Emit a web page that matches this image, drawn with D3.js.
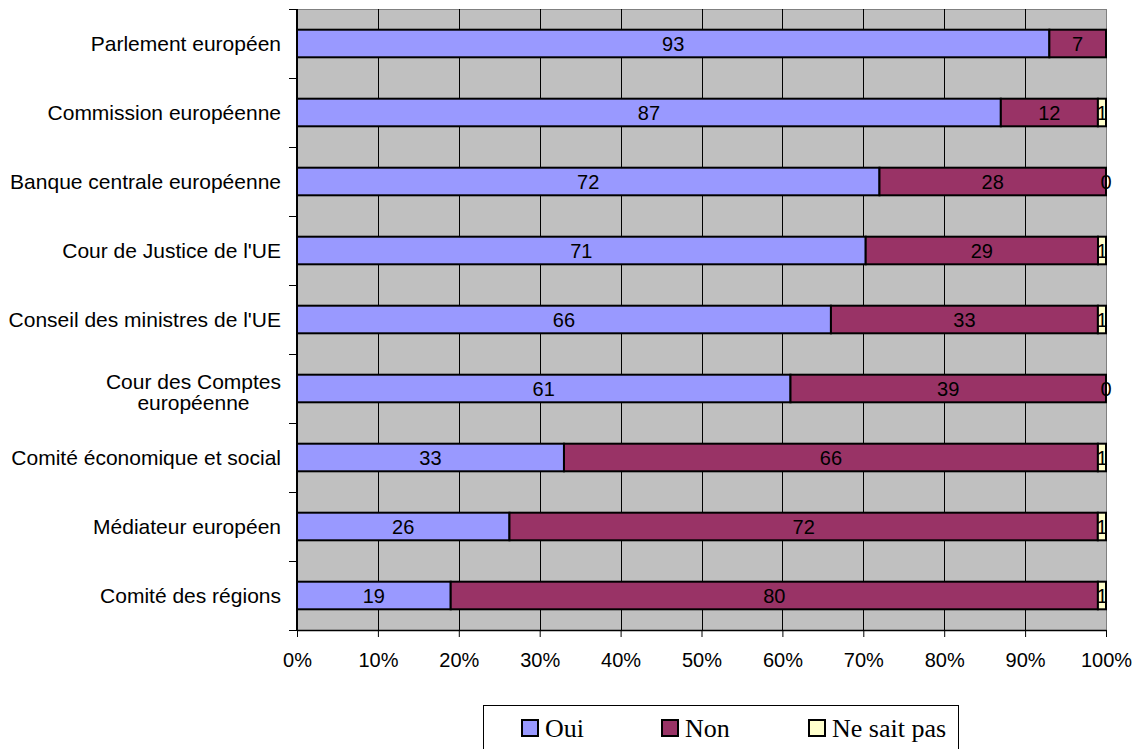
<!DOCTYPE html>
<html><head><meta charset="utf-8">
<script src="https://cdn.jsdelivr.net/npm/d3@7"></script>
<style>body{margin:0;background:#fff}svg{display:block}</style>
</head><body>
<svg id="c" width="1138" height="749"></svg>
<script>
const categories = ["Parlement européen","Commission européenne","Banque centrale européenne","Cour de Justice de l'UE","Conseil des ministres de l'UE","Cour des Comptes\neuropéenne","Comité économique et social","Médiateur européen","Comité des régions"];
const oui = [93,87,72,71,66,61,33,26,19];
const non = [7,12,28,29,33,39,66,72,80];
const nsp = [null,1,0,1,1,0,1,1,1];
const seriesNames = ["Oui","Non","Ne sait pas"];
const colors = ["#9999ff","#993366","#ffffcc"];
const xTicks = [0,0.1,0.2,0.3,0.4,0.5,0.6,0.7,0.8,0.9,1];

const FONT="Liberation Sans, Arial, sans-serif";
const svg = d3.select("#c");
const L=297,R=1106,T=9,B=630;
const x = d3.scaleLinear().domain([0,1]).range([L,R]);
const y = d3.scaleBand().domain(categories).range([T,B]).paddingInner(0.6).paddingOuter(0.3);
const yb = d3.scaleBand().domain(categories).range([T,B]);

svg.append("rect").attr("x",L).attr("y",T).attr("width",R-L).attr("height",B-T).attr("fill","#c0c0c0");
svg.append("line").attr("x1",L).attr("x2",R).attr("y1",T+0.5).attr("y2",T+0.5).attr("stroke","#808080");
svg.append("line").attr("x1",R+0.5).attr("x2",R+0.5).attr("y1",T).attr("y2",B).attr("stroke","#808080");
svg.append("g").selectAll("line").data(xTicks.slice(1,-1)).join("line")
  .attr("x1",d=>Math.round(x(d))+0.5).attr("x2",d=>Math.round(x(d))+0.5)
  .attr("y1",T).attr("y2",B).attr("stroke","#000").attr("stroke-width",1);

const rows = categories.map((c,i)=>{
  const vals=[oui[i],non[i],nsp[i]];
  const tot=d3.sum(vals.map(v=>v||0));
  let acc=0;
  return vals.map((v,k)=>{const s={cat:c,k,v,x0:acc/tot,x1:(acc+(v||0))/tot};acc+=(v||0);return s;});
});
const segs = rows.flat();
const g = svg.append("g");
g.selectAll("rect").data(segs.filter(s=>s.v)).join("rect")
  .attr("x",s=>x(s.x0)).attr("width",s=>x(s.x1)-x(s.x0))
  .attr("y",s=>y(s.cat)).attr("height",y.bandwidth())
  .attr("fill",s=>colors[s.k]).attr("stroke","#000").attr("stroke-width",2);
g.selectAll("text").data(segs.filter(s=>s.v!==null)).join("text")
  .attr("x",s=>(x(s.x0)+x(s.x1))/2).attr("y",s=>y(s.cat)+y.bandwidth()/2)
  .attr("dy","0.36em").attr("text-anchor","middle")
  .attr("font-family",FONT).attr("font-size",20)
  .text(s=>s.v);

// x axis
const xa = svg.append("g").attr("transform",`translate(0,${B})`)
  .call(d3.axisBottom(x).tickValues(xTicks).tickFormat(d3.format(".0%")).tickSize(7).tickSizeOuter(0));
xa.select(".domain").attr("stroke","#000").attr("stroke-width",1.5);
xa.selectAll(".tick line").attr("stroke","#000");
xa.selectAll("text").attr("font-family",FONT).attr("font-size",20).attr("fill","#000").attr("y",37).attr("dy",0);

// y axis
svg.append("line").attr("x1",L).attr("x2",L).attr("y1",T).attr("y2",B).attr("stroke","#000").attr("stroke-width",2);
const bounds = categories.map(c=>yb(c)).concat([B]);
svg.append("g").selectAll("line").data(bounds).join("line")
  .attr("x1",L-8).attr("x2",L).attr("y1",d=>Math.round(d)+0.5).attr("y2",d=>Math.round(d)+0.5).attr("stroke","#000");

const lab = svg.append("g").attr("font-family",FONT).attr("font-size",21).attr("fill","#000");
categories.forEach(c=>{
  const lines=c.split("\n");
  const cy=yb(c)+yb.bandwidth()/2;
  if(lines.length===1){
    lab.append("text").attr("x",281).attr("y",cy).attr("dy","0.36em").attr("text-anchor","end").text(c);
  } else {
    const t=lab.append("text").attr("x",281).attr("y",cy).attr("text-anchor","end").text(lines[0]);
    const w=t.node().getComputedTextLength();
    lab.append("text").attr("x",281-w/2).attr("y",cy+21).attr("text-anchor","middle").text(lines[1]);
  }
});

// legend
const lg = svg.append("g");
lg.append("rect").attr("x",483.5).attr("y",705.5).attr("width",475).attr("height",60).attr("fill","#fff").attr("stroke","#000");
const lx=[522,662,809];
seriesNames.forEach((n,i)=>{
  lg.append("rect").attr("x",lx[i]).attr("y",720).attr("width",16).attr("height",16).attr("fill",colors[i]).attr("stroke","#000").attr("stroke-width",2);
  lg.append("text").attr("x",lx[i]+23).attr("y",737).attr("font-family","Liberation Serif, Times New Roman, serif").attr("font-size",26).attr("fill","#000").text(n);
});
</script>
</body></html>
